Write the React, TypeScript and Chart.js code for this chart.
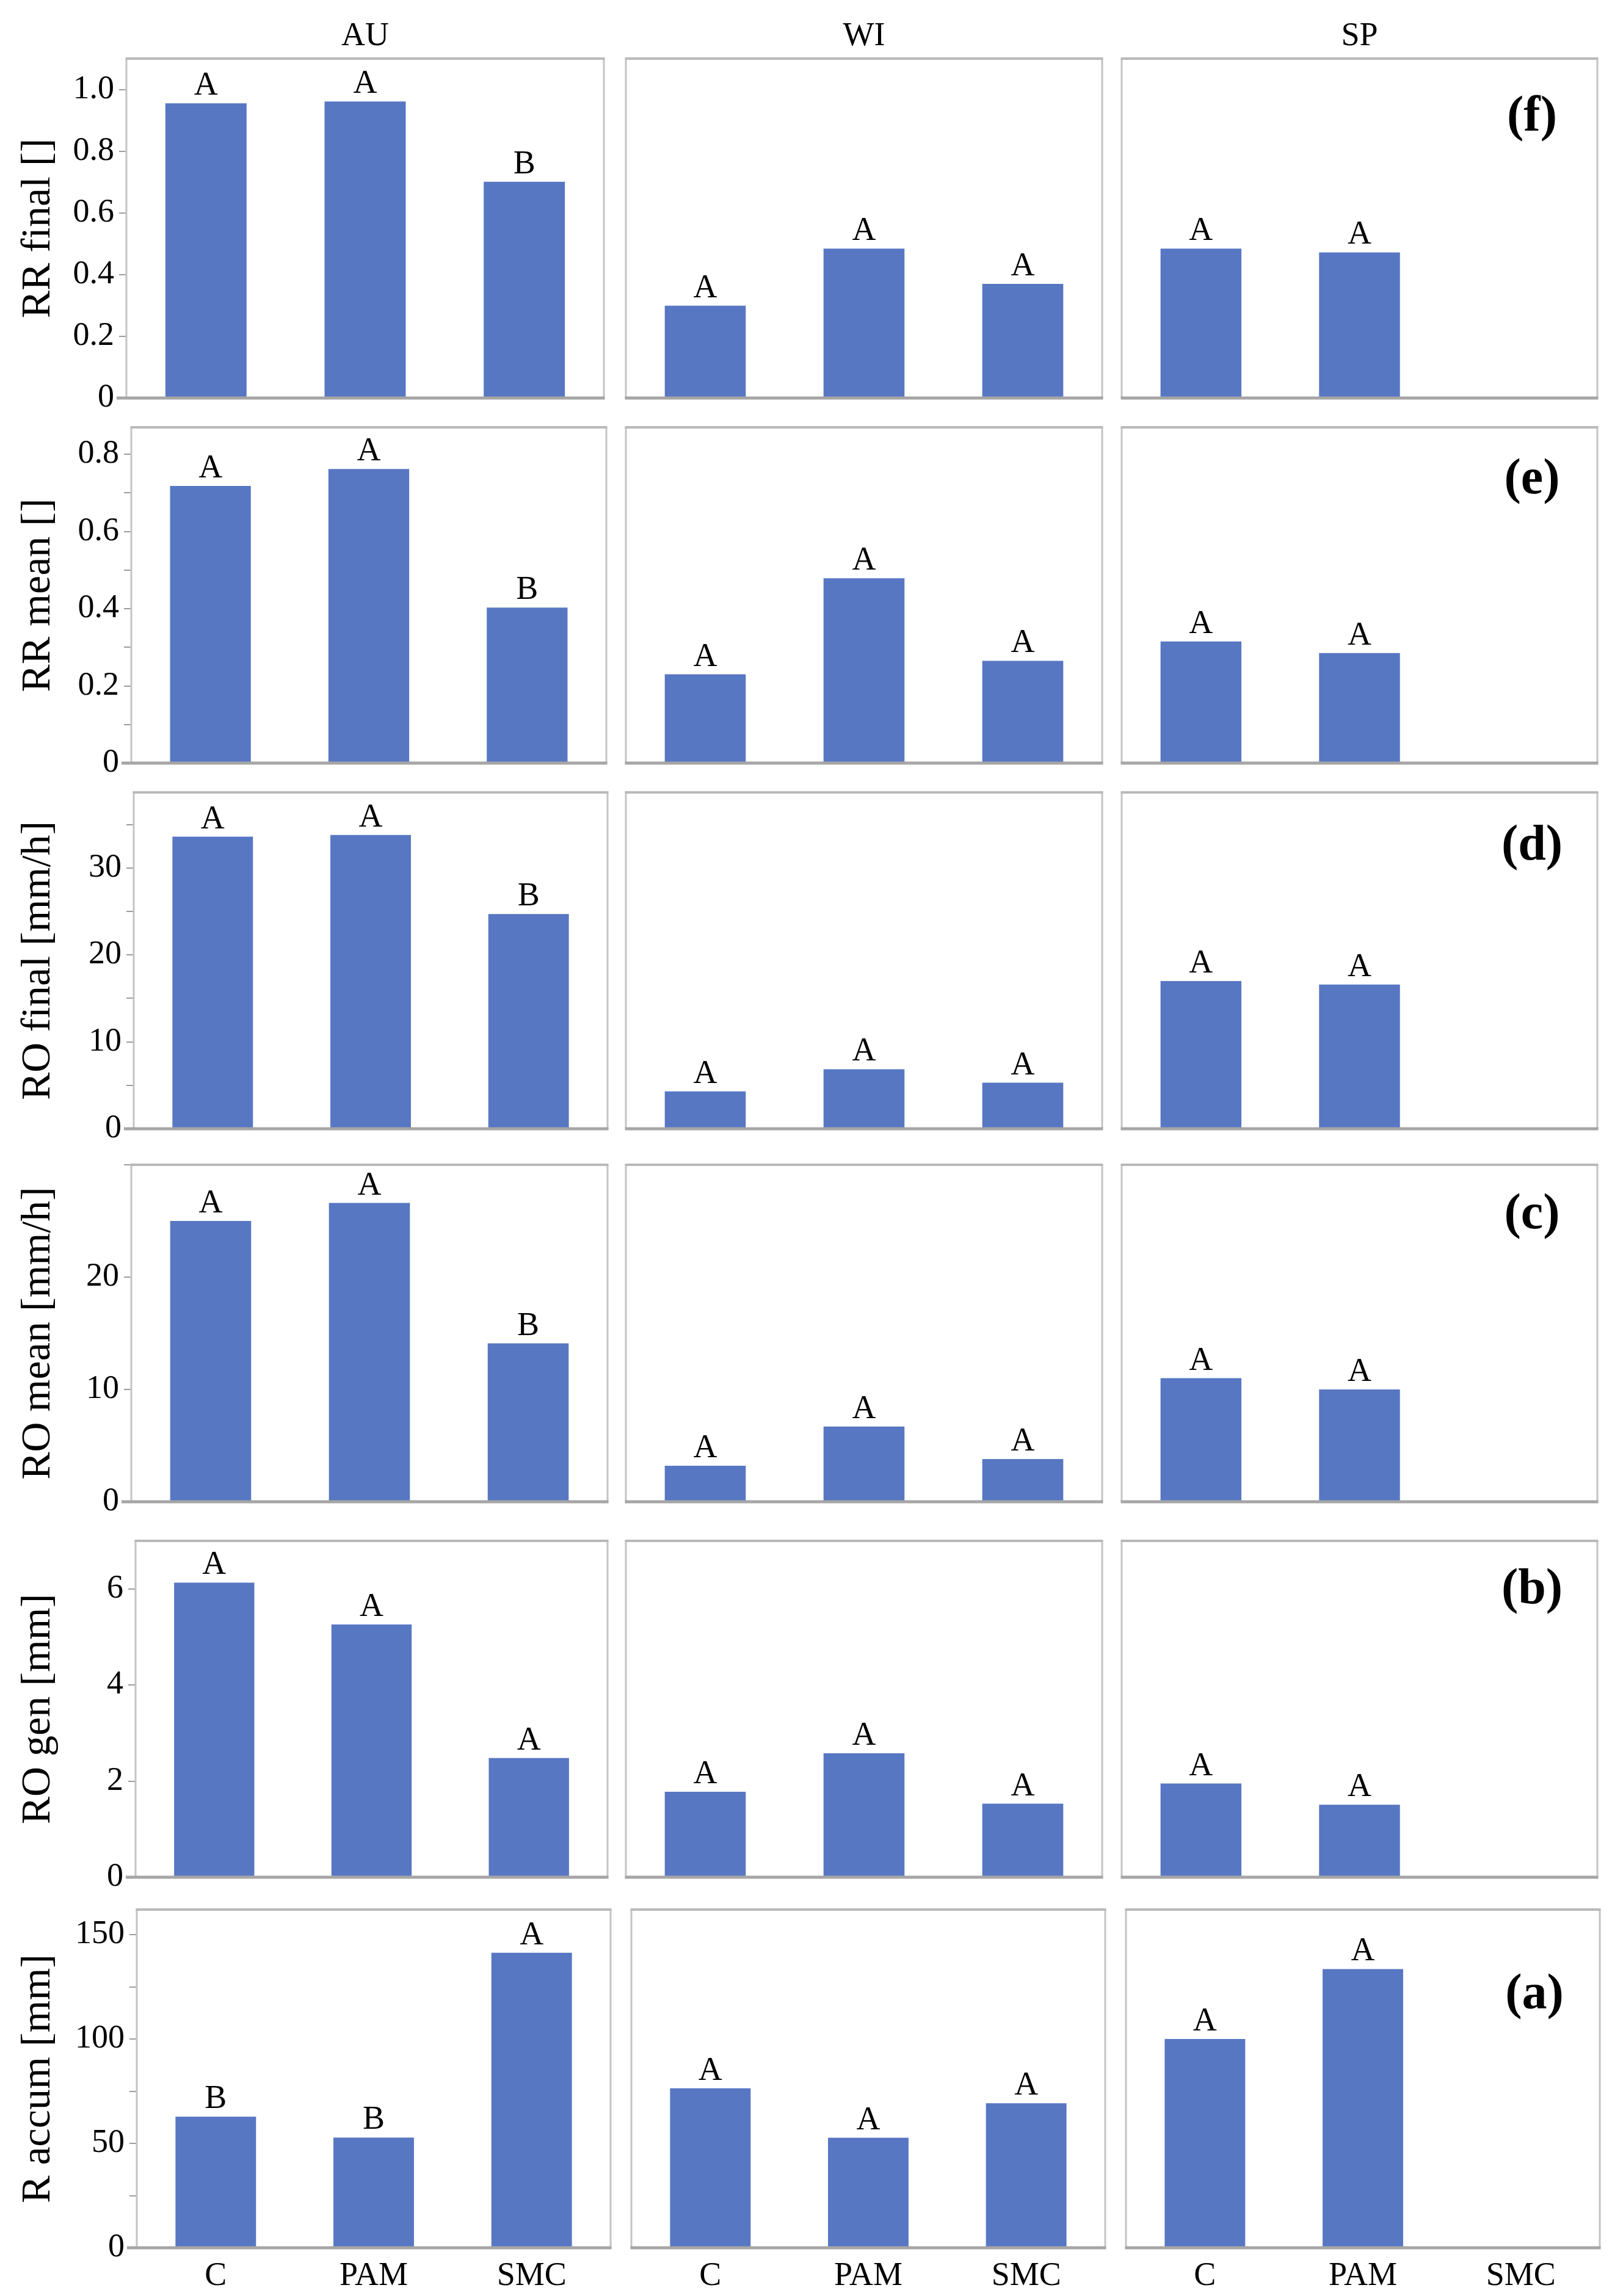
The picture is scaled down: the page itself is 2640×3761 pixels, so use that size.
import React, { useEffect, useRef } from 'react';
import { Chart, registerables } from 'chart.js';

Chart.register(...registerables);

// ---------- data ----------
const categories = ['C', 'PAM', 'SMC'];
const seasons = ['AU', 'WI', 'SP'];
const panelTags = ['(f)', '(e)', '(d)', '(c)', '(b)', '(a)'];
const yTitles = ['RR final []', 'RR mean []', 'RO final [mm/h]', 'RO mean [mm/h]', 'RO gen [mm]', 'R accum [mm]'];

// values per season: [AU], [WI], [SP]
const rrFinal = [[0.955, 0.961, 0.701], [0.299, 0.484, 0.37], [0.484, 0.472, null]];
const rrMean = [[0.718, 0.762, 0.403], [0.23, 0.479, 0.265], [0.315, 0.285, null]];
const roFinal = [[33.6, 33.8, 24.7], [4.3, 6.85, 5.3], [17.0, 16.6, null]];
const roMean = [[25.0, 26.6, 14.1], [3.2, 6.7, 3.8], [11.0, 10.0, null]];
const roGen = [[6.13, 5.26, 2.48], [1.78, 2.58, 1.53], [1.95, 1.51, null]];
const rAccum = [[62.8, 52.8, 141.3], [76.4, 52.7, 69.2], [100.0, 133.5, null]];

const rrFinalLetters = [['A', 'A', 'B'], ['A', 'A', 'A'], ['A', 'A']];
const rrMeanLetters = [['A', 'A', 'B'], ['A', 'A', 'A'], ['A', 'A']];
const roFinalLetters = [['A', 'A', 'B'], ['A', 'A', 'A'], ['A', 'A']];
const roMeanLetters = [['A', 'A', 'B'], ['A', 'A', 'A'], ['A', 'A']];
const roGenLetters = [['A', 'A', 'A'], ['A', 'A', 'A'], ['A', 'A']];
const rAccumLetters = [['B', 'B', 'A'], ['A', 'A', 'A'], ['A', 'A']];

// axis settings per row
const yMax = [1.1, 0.87, 38.7, 30, 7, 162];
const yStep = [0.2, 0.1, 5, 10, 2, 25];
const yLabelStep = [0.2, 0.2, 10, 10, 2, 50];
const yDecimals = [1, 1, 0, 0, 0, 0];

const rowValues = [rrFinal, rrMean, roFinal, roMean, roGen, rAccum];
const rowLetters = [rrFinalLetters, rrMeanLetters, roFinalLetters, roMeanLetters, roGenLetters, rAccumLetters];

// ---------- layout ----------
const rowTop = [96, 700, 1298, 1908, 2524, 3128];
const rowBottom = [652, 1250, 1849, 2460, 3075, 3682];
const col1Left = [207, 215, 219, 215, 222, 224];
const col1Right = [989, 993, 995, 995, 995, 1000];
const tagOffset = [97, 87, 89, 83, 81, 141];

const FONT = '"Liberation Serif", "Times New Roman", serif';
const BAR = '#5777C3';

function colBounds(row: number, col: number): [number, number] {
  if (col === 0) return [col1Left[row], col1Right[row]];
  if (col === 1) return row === 5 ? [1034, 1810] : [1025, 1805];
  return row === 5 ? [1844, 2620] : [1837, 2616];
}

const decorPlugin = {
  id: 'decor',
  afterDatasetsDraw(chart: any, _args: any, opts: any) {
    const { ctx, chartArea: a } = chart;
    ctx.save();
    // frame
    ctx.lineCap = 'butt';
    ctx.strokeStyle = '#c4c4c4';
    ctx.lineWidth = 3;
    ctx.beginPath();
    ctx.moveTo(a.left, a.top);
    ctx.lineTo(a.left, a.bottom);
    ctx.moveTo(a.right, a.top);
    ctx.lineTo(a.right, a.bottom);
    ctx.stroke();
    ctx.strokeStyle = '#b9b9b9';
    ctx.lineWidth = 4;
    ctx.beginPath();
    ctx.moveTo(a.left - 1.5, a.top);
    ctx.lineTo(a.right + 1.5, a.top);
    ctx.stroke();
    ctx.strokeStyle = '#a6a6a6';
    ctx.lineWidth = 5;
    ctx.beginPath();
    ctx.moveTo(a.left - (opts.col === 0 ? 16 : 1.5), a.bottom);
    ctx.lineTo(a.right + 1.5, a.bottom);
    ctx.stroke();

    // significance letters
    ctx.fillStyle = '#000';
    ctx.font = `54px ${FONT}`;
    ctx.textAlign = 'center';
    ctx.textBaseline = 'alphabetic';
    const meta = chart.getDatasetMeta(0);
    meta.data.forEach((bar: any, i: number) => {
      const l = opts.letters[i];
      const v = chart.data.datasets[0].data[i];
      if (!l || v == null) return;
      ctx.fillText(l, bar.x, bar.y - 14);
    });

    // panel tag
    if (opts.tag) {
      ctx.font = `bold 82px ${FONT}`;
      ctx.textBaseline = 'middle';
      ctx.fillText(opts.tag, a.right - 107, a.top + opts.tagOffset);
    }
    // column title
    if (opts.title) {
      ctx.font = `54px ${FONT}`;
      ctx.textBaseline = 'middle';
      ctx.fillText(opts.title, (a.left + a.right) / 2, a.top - 36);
    }
    ctx.restore();
  },
};

function Panel({ row, col }: { row: number; col: number }) {
  const ref = useRef<HTMLCanvasElement>(null);
  const [pl, pr] = colBounds(row, col);
  const padTop = row === 0 ? rowTop[0] : 6;
  const xAxisH = row === 5 ? 73 : 0;
  const padBottom = row < 5 && col === 0 ? 36 : 6;
  const canvasLeft = col === 0 ? 0 : pl - 6;
  const width = pr + 6 - canvasLeft;
  const canvasTop = rowTop[row] - padTop;
  const height = padTop + (rowBottom[row] - rowTop[row]) + xAxisH + padBottom;

  useEffect(() => {
    const max = yMax[row];
    const labelStep = yLabelStep[row];
    const chart = new Chart(ref.current as HTMLCanvasElement, {
      type: 'bar',
      data: {
        labels: categories,
        datasets: [
          {
            data: rowValues[row][col] as any,
            backgroundColor: BAR,
            borderWidth: 0,
            barPercentage: 0.51,
            categoryPercentage: 1,
          },
        ],
      },
      plugins: [decorPlugin],
      options: {
        animation: false,
        responsive: false,
        devicePixelRatio: 1,
        layout: {
          padding: { top: padTop, bottom: padBottom, left: col === 0 ? 0 : 6, right: 6 },
        },
        plugins: {
          legend: { display: false },
          tooltip: { enabled: false },
          decor: {
            letters: rowLetters[row][col],
            tag: col === 2 ? panelTags[row] : null,
            tagOffset: tagOffset[row],
            title: row === 0 ? seasons[col] : null,
            col,
          },
        } as any,
        scales: {
          x: {
            display: row === 5,
            grid: { display: false },
            border: { display: false },
            ticks: {
              color: '#000',
              font: { family: FONT, size: 54 },
              padding: 6,
              maxRotation: 0,
              autoSkip: false,
            },
            afterFit: (s: any) => {
              if (row === 5) {
                s.height = xAxisH;
                s.paddingLeft = 0;
                s.paddingRight = 0;
              }
            },
          },
          y: {
            display: col === 0,
            min: 0,
            max,
            grid: {
              display: true,
              drawOnChartArea: false,
              drawTicks: true,
              tickLength: 12,
              color: '#9c9c9c',
              lineWidth: 2,
            },
            border: { display: false },
            ticks: {
              stepSize: yStep[row],
              includeBounds: false,
              autoSkip: false,
              color: '#000',
              padding: 8,
              font: { family: FONT, size: 54 },
              callback: (value: any) => {
                const v = Number(value);
                if (Math.abs(v - max) < 1e-9 && v !== 0) return '';
                const k = Math.round(v / labelStep);
                if (Math.abs(k * labelStep - v) > 1e-6) return '';
                if (Math.abs(v) < 1e-9) return '0';
                return (k * labelStep).toFixed(yDecimals[row]);
              },
            },
            title: {
              display: true,
              text: yTitles[row],
              color: '#000',
              font: { family: FONT, size: 68 },
              padding: { top: 22, bottom: 0 },
            },
            afterFit: (s: any) => {
              if (col === 0) {
                s.width = pl;
                s.paddingTop = 0;
                s.paddingBottom = 0;
              }
            },
          },
        },
      } as any,
    });
    return () => chart.destroy();
  }, [row, col]);

  return (
    <canvas
      ref={ref}
      width={width}
      height={height}
      style={{ position: 'absolute', left: canvasLeft, top: canvasTop, width, height }}
    />
  );
}

export default function App() {
  useEffect(() => {
    document.body.style.margin = '0';
  }, []);
  const panels: React.ReactNode[] = [];
  for (let r = 0; r < 6; r++) {
    for (let c = 0; c < 3; c++) {
      panels.push(<Panel key={`${r}-${c}`} row={r} col={c} />);
    }
  }
  return (
    <div style={{ position: 'relative', width: 2640, height: 3761, background: '#fff', overflow: 'hidden' }}>
      {panels}
    </div>
  );
}
